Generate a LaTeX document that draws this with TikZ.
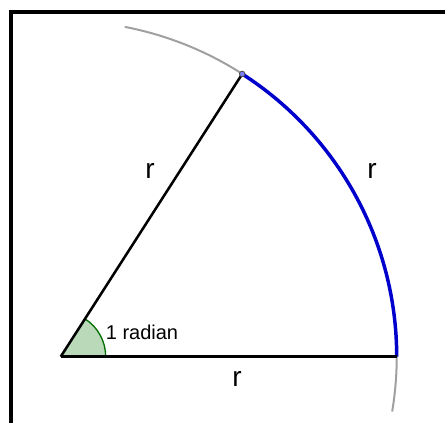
\documentclass[tikz,border=0pt]{standalone}
\usepackage{fontspec}
\setmainfont{Liberation Sans}
\usetikzlibrary{angles,quotes}
\definecolor{arcblue}{RGB}{0,0,204}
\definecolor{anglegreen}{RGB}{0,110,0}
\definecolor{anglefill}{RGB}{185,217,185}
\definecolor{circgray}{RGB}{160,160,160}
\begin{document}
\begin{tikzpicture}[x=0.75pt,y=0.75pt, side/.style={black,line width=1.9pt}, arcpart/.style={arcblue,line width=2.6pt}, circle part/.style={circgray,line width=1.5pt}, rlabel/.style={font=\fontsize{21}{24}\selectfont,inner sep=0pt}, anglelabel/.style={font=\fontsize{15}{18}\selectfont,inner sep=0pt}]
\useasboundingbox (-60.7,-66.3) rectangle (384.3,356.7);
\draw[line width=2.6pt] (-49.7,-90) rectangle (420,344.7);
\coordinate (O) at (0,0);
\coordinate (A) at (336,0);
\coordinate (B) at (57.3:336);
\coordinate (C) at (-9.4:336);
% angle of one radian
\fill[anglefill] (O) -- (45,0) arc (0:57.3:45) -- cycle;
\draw[anglegreen,line width=1pt] (45,0) arc (0:57.3:45);
% circle and the arc of length r
\draw[circle part] (C) arc (-9.4:79:336);
\draw[arcpart] (A) arc (0:57.3:336);
\draw[side] (O)--(A); \draw[side] (O)--(B);
\draw[fill=blue!50,draw=black!70,line width=0.6pt] (B) circle (2.8);
\node[anglelabel] (rad) at (81.3,24.7) {1 radian};
\node[rlabel] (rleft) at (89.3,185.7) {r};
\node[rlabel] (rright) at (311.3,185.7) {r};
\node[rlabel] (rbottom) at (176.3,-22.3) {r};
\end{tikzpicture}
\end{document}
